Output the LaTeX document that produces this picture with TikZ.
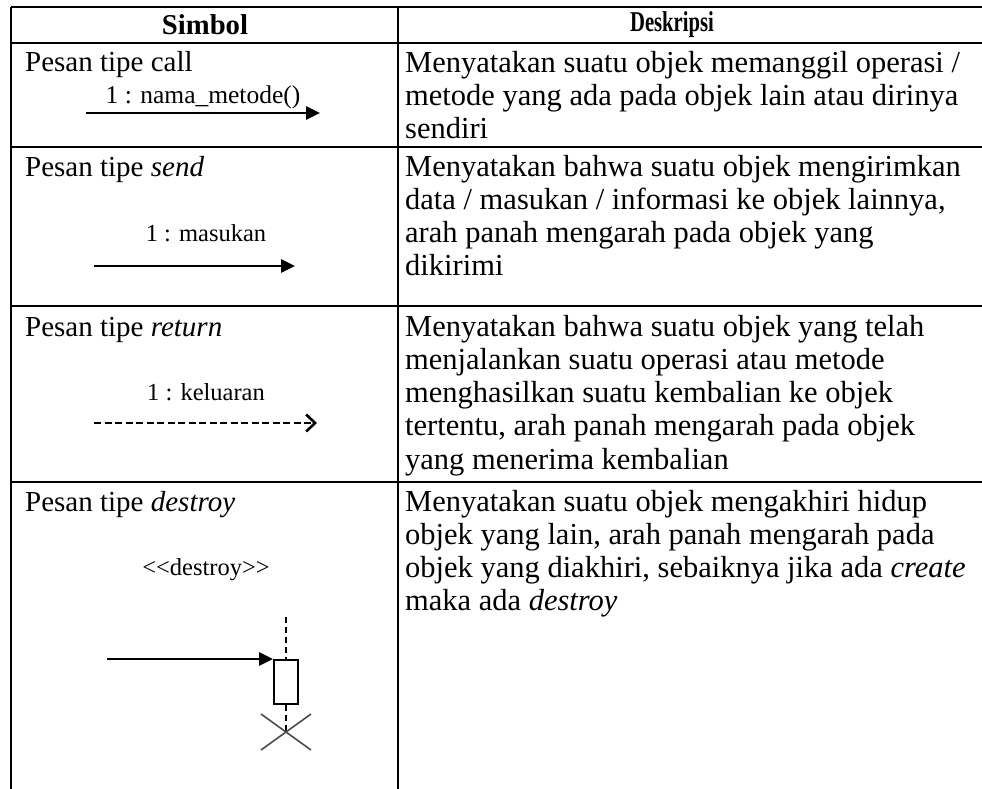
\documentclass[tikz,border=0pt]{standalone}
\usepackage{fontspec}
\setmainfont{Liberation Serif}
\usetikzlibrary{arrows.meta}

\begin{document}
\begin{tikzpicture}[x=1pt,y=-1pt,
  rule/.style={line width=2.6pt},
  vrule/.style={line width=2pt},
  head/.style={font=\fontsize{28.7}{33}\selectfont\bfseries, inner sep=0pt},
  title/.style={font=\fontsize{29}{33.3}\selectfont, inner sep=0pt, anchor=base west},
  % multi-line cells: the base anchor sits on the last line's baseline
  desc/.style={font=\fontsize{30.5}{33.3}\selectfont, inner sep=0pt, anchor=base west, align=left},
  msg/.style={font=\fontsize{24.5}{28}\selectfont, inner sep=0pt, anchor=base},
  solidmsg/.style={line width=2.8pt, -{Triangle[length=14pt,width=13pt]}},
  returnmsg/.style={line width=2.6pt, dash pattern=on 7pt off 3.5pt,
    -{Straight Barb[length=9pt,width=17pt,line width=2.6pt]}},
  lifeline/.style={line width=1.8pt, dash pattern=on 6pt off 4pt},
  actbox/.style={draw, line width=2pt, minimum width=24pt, minimum height=44pt, inner sep=0pt},
  cross/.style={line width=1.6pt, draw=black!70}
]
\useasboundingbox (0,0) rectangle (982,789);

% table rules
\foreach \yy in {7,43,147,306,482}
  \draw[rule] (11,\yy) -- (982,\yy);
\draw[vrule] (11,7) -- (11,789);
\draw[vrule] (398,7) -- (398,789);

% header
\node[head] (hsym) at (205,25) {Simbol};
\node[head] (hdesc) at (672,25) {\scalebox{0.72}[1]{Deskripsi}};

% row 1: call
\node[title] (t1) at (25,72) {Pesan tipe call};
\node[msg, font=\fontsize{25.5}{28}\selectfont] (m1) at (203,104) {1 : nama\_metode()};
\coordinate (c1a) at (86,113);
\coordinate (c1b) at (320,113);
\draw[solidmsg] (c1a) -- (c1b);
\node[desc] (d1) at (405,{72+2*33.3}) {Menyatakan suatu objek memanggil operasi /\\
  metode yang ada pada objek lain atau dirinya\\
  sendiri};

% row 2: send
\node[title] (t2) at (25,176) {Pesan tipe \textit{send}};
\node[msg] (m2) at (206,241) {1 : masukan};
\coordinate (c2a) at (94,266);
\coordinate (c2b) at (295,266);
\draw[solidmsg] (c2a) -- (c2b);
\node[desc] (d2) at (405,{176+3*33.3}) {Menyatakan bahwa suatu objek mengirimkan\\
  data / masukan / informasi ke objek lainnya,\\
  arah panah mengarah pada objek yang\\
  dikirimi};

% row 3: return
\node[title] (t3) at (25,336) {Pesan tipe \textit{return}};
\node[msg] (m3) at (206,400) {1 : keluaran};
\coordinate (c3a) at (94,423);
\coordinate (c3b) at (317,423);
\draw[returnmsg] (c3a) -- (c3b);
\node[desc] (d3) at (405,{336+4*33.3}) {Menyatakan bahwa suatu objek yang telah\\
  menjalankan suatu operasi atau metode\\
  menghasilkan suatu kembalian ke objek\\
  tertentu, arah panah mengarah pada objek\\
  yang menerima kembalian};

% row 4: destroy
\node[title] (t4) at (25,511) {Pesan tipe \textit{destroy}};
\node[msg] (m4) at (206,575) {<{}<destroy>{}>};
\node[actbox, anchor=north west] (act) at (273,659) {};
\coordinate (lifetop) at (act.north |- 0,617);
\coordinate (xc) at (act.south |- 0,732);
\draw[lifeline] (lifetop) -- (act.north);
\draw[lifeline] (act.south) -- (xc);
\coordinate (c4a) at (107,659);
\draw[solidmsg] (c4a) -- (act.north west);
\draw[cross] ([shift={(-25,-18)}]xc) -- ([shift={(25,18)}]xc);
\draw[cross] ([shift={(25,-18)}]xc) -- ([shift={(-25,18)}]xc);
\node[desc] (d4) at (405,{511+3*33.3}) {Menyatakan suatu objek mengakhiri hidup\\
  objek yang lain, arah panah mengarah pada\\
  objek yang diakhiri, sebaiknya jika ada \textit{create}\\
  maka ada \textit{destroy}};
\end{tikzpicture}
\end{document}
